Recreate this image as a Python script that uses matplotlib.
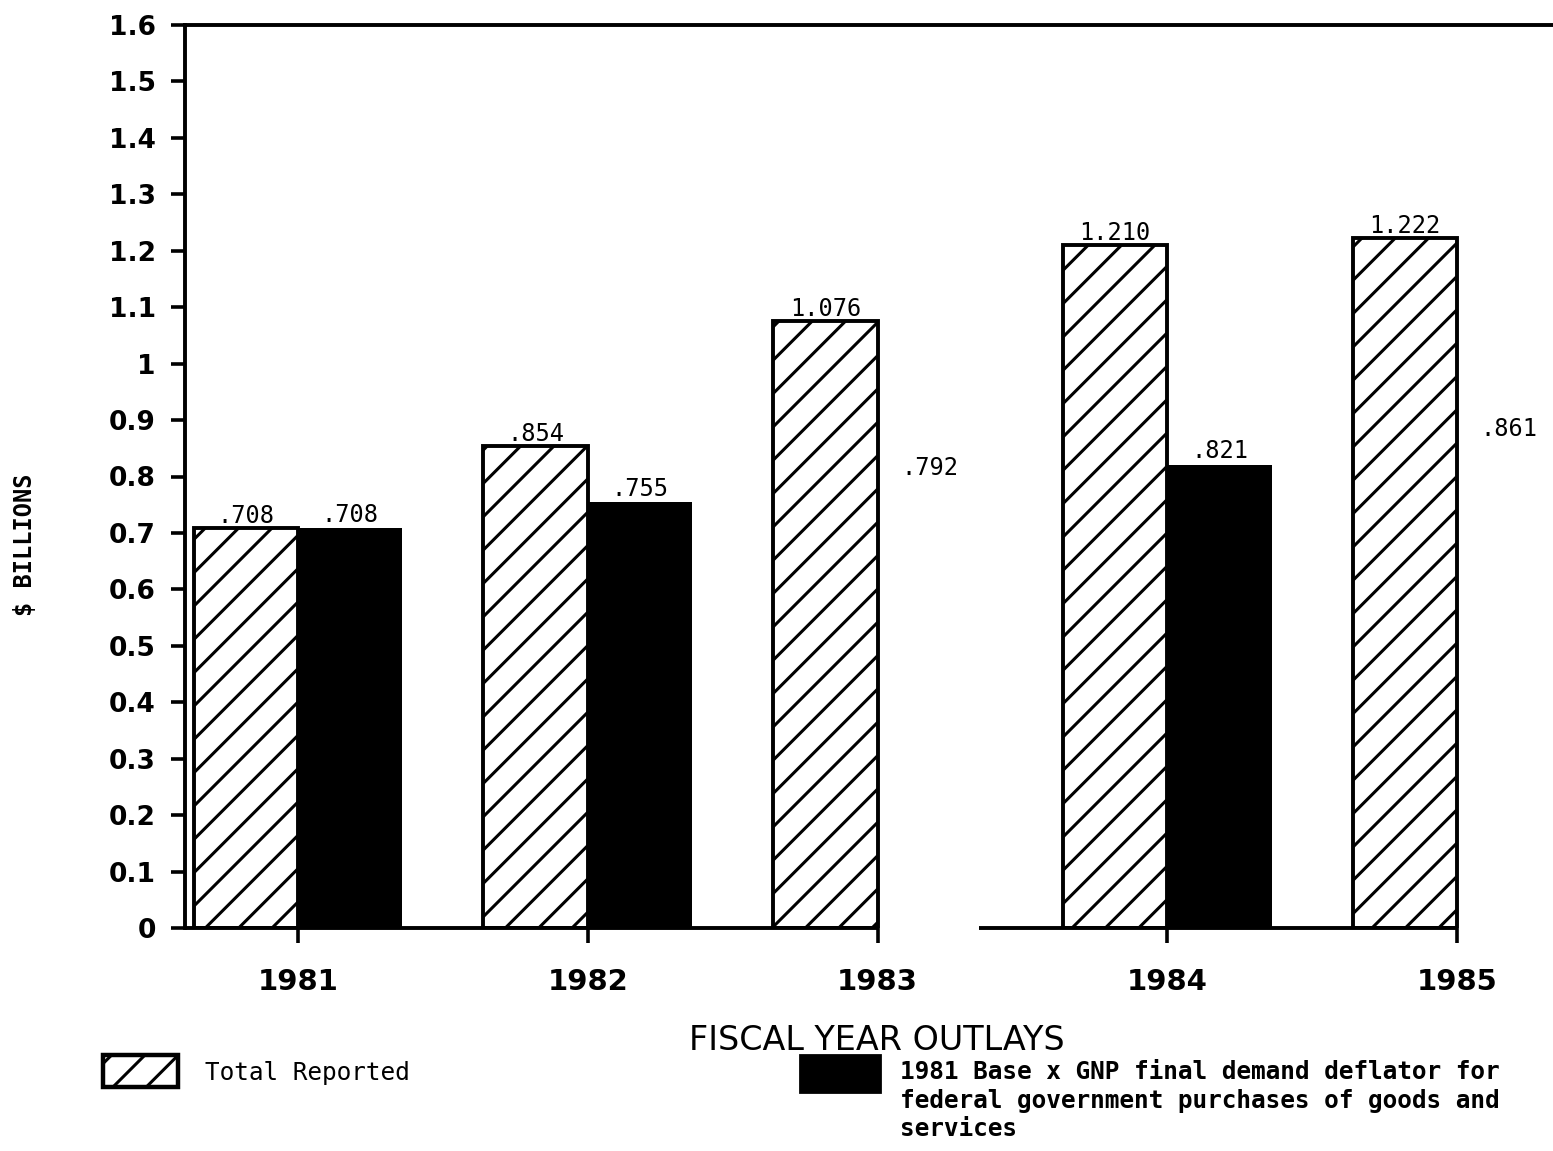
import matplotlib
matplotlib.use("Agg")
import matplotlib.pyplot as plt
from matplotlib.patches import Rectangle
from matplotlib.ticker import FuncFormatter
import numpy as np

years = ["1981", "1982", "1983", "1984", "1985"]
total_reported = [0.708, 0.854, 1.076, 1.210, 1.222]
deflated = [0.708, 0.755, 0.792, 0.821, 0.861]
# black bars for 1983 and 1985 did not survive in the scan, only their labels
deflated_fill = ["black", "black", "none", "black", "none"]

DPI = 200
plt.rcParams["hatch.linewidth"] = 1.1
plt.rcParams["font.family"] = ["DejaVu Sans"]


def fmt_value(v):
    s = f"{v:.3f}"
    return s[1:] if s.startswith("0") else s


fig = plt.figure(figsize=(1553 / DPI, 1151 / DPI), dpi=DPI)
ax = fig.add_axes([185 / 1553, 1 - 928 / 1151, 1 - 185 / 1553, (928 - 25) / 1151])

x = np.arange(len(years))
w = 0.36
b1 = ax.bar(x - w / 2, total_reported, w, facecolor="white", edgecolor="black",
            hatch="//", linewidth=1.4)
b2 = ax.bar(x + w / 2, deflated, w, color=deflated_fill, edgecolor="none")

ax.bar_label(b1, labels=[fmt_value(v) for v in total_reported], padding=0,
             fontsize=8.5, family="DejaVu Sans Mono")
ax.bar_label(b2, labels=[fmt_value(v) for v in deflated], padding=0.5,
             fontsize=8.5, family="DejaVu Sans Mono")

ax.set_ylim(0, 1.6)
ax.set_xlim(-0.39, 4.331)
ax.set_yticks(np.round(np.arange(0, 1.61, 0.1), 1))
ax.yaxis.set_major_formatter(FuncFormatter(lambda v, p: f"{v:g}"))
ax.set_xticks(x)
ax.set_xticklabels(years)

ax.tick_params(axis="y", direction="out", length=5, width=1.3, pad=5.5,
               labelsize=9.5)
ax.tick_params(axis="x", direction="out", length=5.5, width=1.3, pad=9,
               labelsize=10.5)
for lab in ax.get_xticklabels() + ax.get_yticklabels():
    lab.set_fontweight("bold")

for side in ["left", "top"]:
    ax.spines[side].set_linewidth(1.4)
ax.spines["right"].set_visible(False)
ax.spines["bottom"].set_visible(False)
# bottom axis line, broken after 1983 as in the original
ax.hlines([0, 0], [-0.39, 2.35], [2, 4], color="black", linewidth=1.4,
          clip_on=False)

ax.set_ylabel("$ BILLIONS", family="DejaVu Sans Mono", fontweight="bold",
              fontsize=8.5)
ax.yaxis.set_label_coords(-0.108, 0.424)

fig.text(877 / 1553, 1 - 1040 / 1151, "FISCAL YEAR OUTLAYS", ha="center",
         va="center", fontsize=12)

# legend
fig.add_artist(Rectangle((103 / 1553, 1 - 1087 / 1151), 75 / 1553, 32 / 1151,
                         transform=fig.transFigure, facecolor="white",
                         edgecolor="black", hatch="//", linewidth=1.6))
fig.text(205 / 1553, 1 - 1073 / 1151, "Total Reported", ha="left", va="center",
         family="DejaVu Sans Mono", fontsize=8.8)
fig.add_artist(Rectangle((800 / 1553, 1 - 1092 / 1151), 80 / 1553, 37 / 1151,
                         transform=fig.transFigure, facecolor="black",
                         edgecolor="black"))
fig.text(900 / 1553, 1 - 1060 / 1151,
         "1981 Base x GNP final demand deflator for\n"
         "federal government purchases of goods and\n"
         "services",
         ha="left", va="top", family="DejaVu Sans Mono", fontweight="bold",
         fontsize=8.8, linespacing=1.25)

fig.savefig("out.png", dpi=DPI, facecolor="white")
